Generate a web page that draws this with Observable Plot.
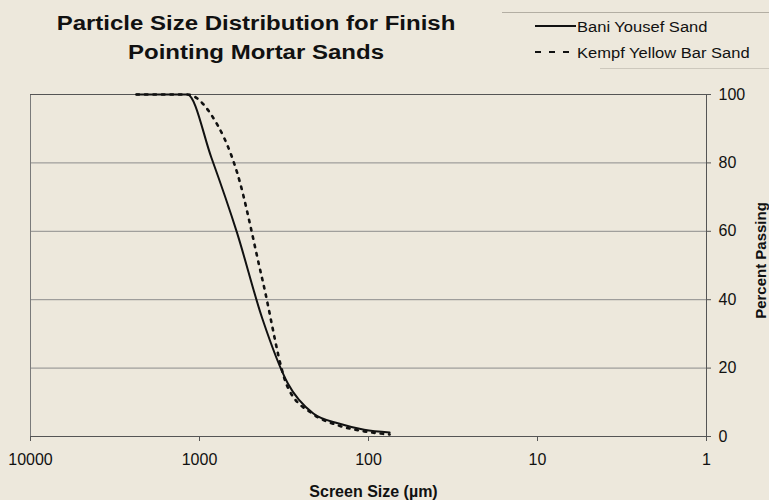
<!DOCTYPE html>
<html>
<head>
<meta charset="utf-8">
<script src="https://cdn.jsdelivr.net/npm/d3@7"></script>
<script src="https://cdn.jsdelivr.net/npm/@observablehq/plot@0.6"></script>
<style>
  html, body { margin: 0; padding: 0; background: #ede8dc; }
  #wrap { position: relative; width: 769px; height: 500px; background: #ede8dc; overflow: hidden;
          font-family: "Liberation Sans", Arial, sans-serif; color: #111; }
  #title { position: absolute; left: 56px; width: 400px; top: 9px; text-align: center;
           font-weight: bold; font-size: 20px; line-height: 29px; transform: scaleX(1.2);
           transform-origin: 200px 0; white-space: nowrap; }
  .leg { position: absolute; left: 535px; height: 16px; font-size: 14px; line-height: 16px; white-space: nowrap; }
  .leg svg { position: absolute; left: 0; top: 0; }
  .leg span { position: absolute; left: 42px; top: 0; display: inline-block; transform: scaleX(1.18); transform-origin: 0 0; }
  .legline { position: absolute; height: 0; border-top: 1px solid; }
  #chart { position: absolute; left: 0; top: 0; }
</style>
</head>
<body>
<div id="wrap">
  <div class="legline" style="left:502px; width:267px; top:12px; border-color:#b3aea3;"></div>
  <div class="legline" style="left:600px; width:169px; top:68px; border-color:#cdc8bd;"></div>
  <div id="title"></div>
  <div id="legend"></div>
  <div id="chart"></div>
</div>
<script>
// ---- data ----
const titleLines = ["Particle Size Distribution for Finish", "Pointing Mortar Sands"];
const seriesNames = ["Bani Yousef Sand", "Kempf Yellow Bar Sand"];
const sizes = [2360, 1180, 850, 600, 425, 300, 212, 150, 106, 75];            // screen size (µm)
const baniYousef = [100, 100, 81.5, 59.6, 34.5, 15.5, 6.7, 3.8, 2.0, 1.2];    // percent passing
const kempfYellowBar = [100, 100, 94, 77.3, 46, 14.3, 6.5, 3.2, 1.5, 0.6];    // percent passing
const xTicks = [10000, 1000, 100, 10, 1];
const yTicks = [0, 20, 40, 60, 80, 100];
const xLabel = "Screen Size (µm)";
const yLabel = "Percent Passing";

// ---- title & legend ----
document.getElementById("title").innerHTML = titleLines.map(t => `<div>${t}</div>`).join("");
const legendTops = [19, 45];
const legendDash = ["none", "6,8"];
document.getElementById("legend").innerHTML = seriesNames.map((n, i) =>
  `<div class="leg" style="top:${legendTops[i]}px">
     <svg width="44" height="16"><line x1="0" x2="41" y1="7" y2="7" stroke="#111" stroke-width="2" stroke-dasharray="${legendDash[i]}"/></svg>
     <span>${n}</span></div>`).join("");

// ---- chart ----
const bani = sizes.map((s, i) => ({size: s, pct: baniYousef[i]}));
const kempf = sizes.map((s, i) => ({size: s, pct: kempfYellowBar[i]}));

const chart = Plot.plot({
  width: 769,
  height: 500,
  marginLeft: 30,
  marginRight: 63,
  marginTop: 94,
  marginBottom: 64,
  style: {background: "transparent", fontFamily: "Liberation Sans, Arial, sans-serif", fontSize: "16px", color: "#111", overflow: "visible"},
  x: {type: "log", domain: [10000, 1], axis: null},
  y: {domain: [0, 100], axis: null},
  marks: [
    Plot.ruleY(yTicks.filter(d => d > 0 && d < 100), {stroke: "#8c8c8c", strokeWidth: 1}),
    Plot.ruleX([10000], {stroke: "#7a7a7a", strokeWidth: 1}),
    Plot.ruleY([100], {stroke: "#555", strokeWidth: 1}),
    Plot.ruleY([0], {stroke: "#555", strokeWidth: 1}),
    Plot.ruleX([1], {stroke: "#555", strokeWidth: 1}),
    Plot.axisX(xTicks, {anchor: "bottom", tickSize: 5, tickPadding: 12, tickFormat: d => String(d), label: null, stroke: "#555", fill: "#111", fontSize: 16}),
    Plot.axisY(yTicks, {anchor: "right", tickSize: 4, tickPadding: 8, label: null, stroke: "#555", fill: "#111", fontSize: 16}),
    Plot.line(kempf, {x: "size", y: "pct", stroke: "#111", strokeWidth: 2.6, strokeDasharray: "2.5,6", curve: "monotone-x"}),
    Plot.line(bani, {x: "size", y: "pct", stroke: "#111", strokeWidth: 2, curve: "monotone-x"}),
    Plot.text([xLabel], {text: d => d, frameAnchor: "bottom", dy: 60, dx: 5, textAnchor: "middle", lineAnchor: "bottom", fontWeight: "bold", fontSize: 16, fill: "#111"}),
    Plot.text([yLabel], {text: d => d, frameAnchor: "right", dx: 59, dy: -5, rotate: -90, textAnchor: "middle", lineAnchor: "bottom", fontWeight: "bold", fontSize: 15, fill: "#111"})
  ]
});
document.getElementById("chart").appendChild(chart);
</script>
</body>
</html>
